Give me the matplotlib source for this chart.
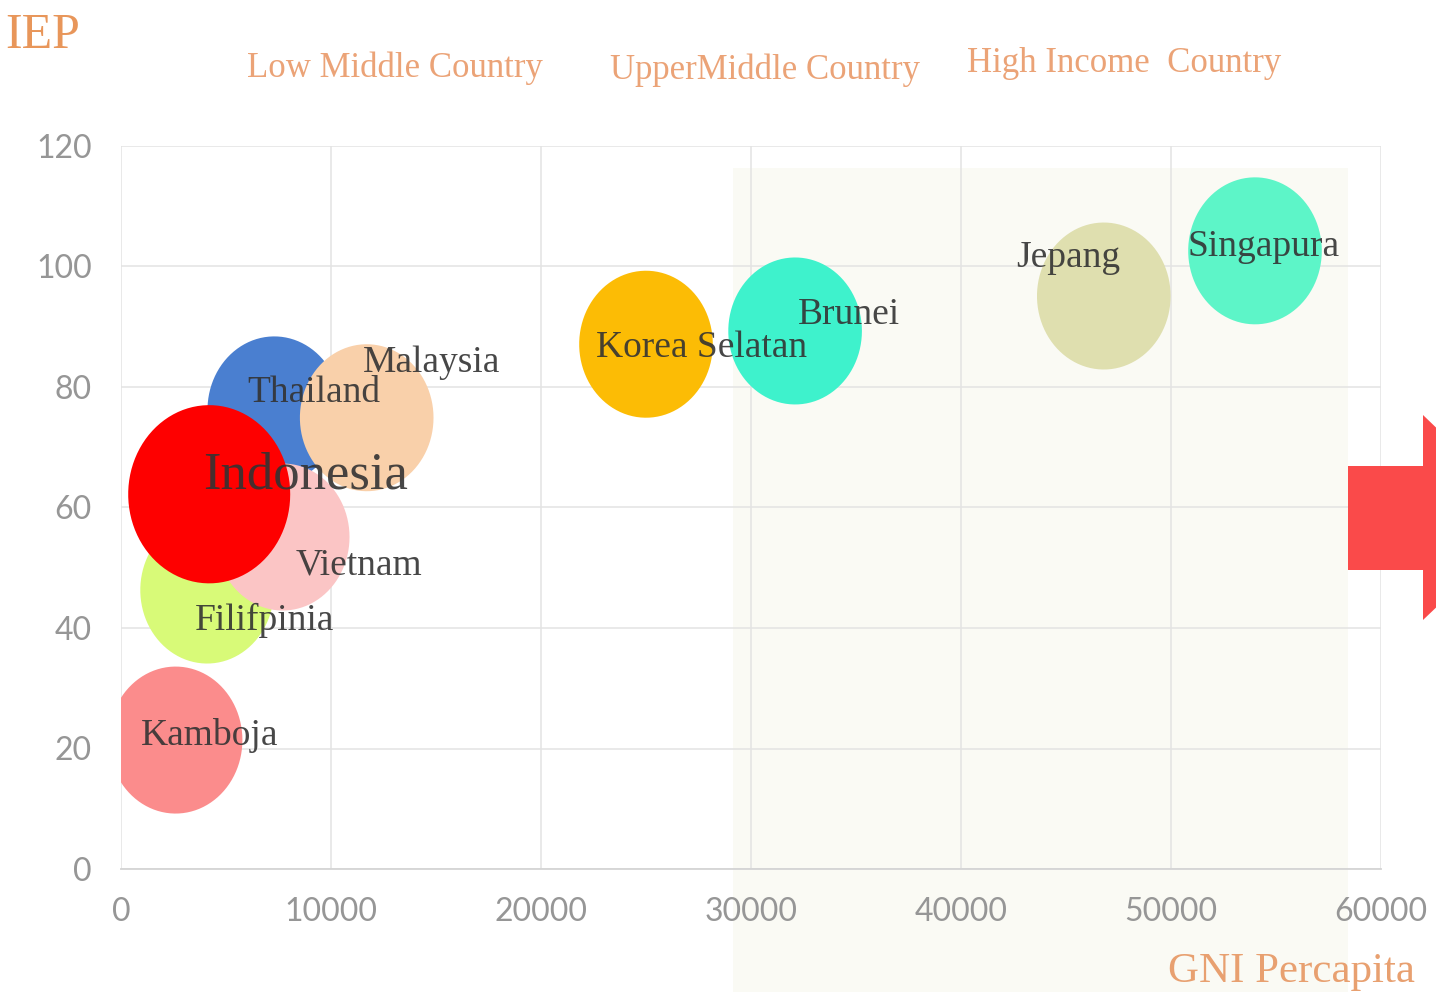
import numpy as np
import matplotlib.pyplot as plt
from matplotlib.path import Path
from matplotlib.patches import Rectangle, Polygon

# GNI per capita (USD) vs IEP score, bubble = relative size
countries = ['Thailand', 'Malaysia', 'Filifpinia', 'Vietnam', 'Indonesia', 'Kamboja',
             'Korea Selatan', 'Brunei', 'Jepang', 'Singapura']
gni = [7300, 11700, 4100, 7700, 4200, 2600, 25000, 32100, 46800, 54000]
iep = [76.2, 74.9, 46.3, 55.1, 62.2, 21.4, 87.1, 89.3, 95.1, 102.6]
bubble = [100, 100, 100, 100, 147, 100, 100, 100, 100, 100]
colors = ['#4a7fd0', '#f9d0aa', '#d8fa78', '#fbc5c5', '#fe0000', '#fb8c8c',
          '#fcbc05', '#3ef2cc', '#dfdfaf', '#5df5c8']

# label offsets in pixels (left edge / vertical centre of text relative to bubble)
label_dx = [-27, -4, -12, 13, -6, -35, -50, 3, -88, -67]
label_dy = [17, 55, -30, -28, 19, 5, -4, 16, 38, 4]

income_groups = ['Low Middle Country', 'UpperMiddle Country', 'High Income  Country']

W, H = 1436, 992
fig = plt.figure(figsize=(W / 100, H / 100), dpi=100)
ax = fig.add_axes([121 / W, 1 - 869 / H, 1260 / W, 723 / H])
ax.set_facecolor('none')

# shaded band behind the high income area
fig.patches.append(Rectangle((733 / W, 0), (1348 - 733) / W, 1 - 168 / H,
                             transform=fig.transFigure, facecolor='#fafaf4',
                             edgecolor='none', zorder=-5))

# ellipse marker, slightly taller than wide
t = np.linspace(0, 2 * np.pi, 100)
ell = Path(np.column_stack([np.cos(t), 1.1 * np.sin(t)]), closed=True)

for i in range(len(countries)):
    ax.scatter(gni[i], iep[i], s=bubble[i] * 112, marker=ell, color=colors[i],
               edgecolors='none', zorder=3)

for i, name in enumerate(countries):
    big = name == 'Indonesia'
    ax.annotate(name, (gni[i], iep[i]), xytext=(label_dx[i], label_dy[i]),
                textcoords='offset pixels', ha='left', va='center',
                fontfamily='Liberation Serif', fontsize=38 if big else 27,
                color='#333333', alpha=0.9, zorder=5)

ax.set_xlim(0, 60000)
ax.set_ylim(0, 120)
ax.set_xticks(range(0, 60001, 10000))
ax.set_yticks(range(0, 121, 20))
ax.grid(True, color='#e3e3e3', lw=1.1, zorder=0)
ax.set_axisbelow(True)
for s in ['top', 'right', 'left']:
    ax.spines[s].set_visible(False)
ax.spines['bottom'].set_color('#d4d4d4')
ax.spines['bottom'].set_linewidth(1.3)
ax.tick_params(length=0, labelsize=23, labelcolor='#969696')
ax.tick_params(axis='x', pad=20)
ax.tick_params(axis='y', pad=21)
for lab in ax.get_xticklabels() + ax.get_yticklabels():
    lab.set_fontfamily('Lato')

fig.text(5 / W, 1 - 36 / H, 'IEP', fontfamily='Liberation Serif', fontsize=36,
         color='#e8965a', va='center', ha='left')
for txt, x, y in zip(income_groups, [247, 610, 967], [68, 70, 63]):
    fig.text(x / W, 1 - y / H, txt, fontfamily='Liberation Serif', fontsize=25,
             color='#eba377', va='center', ha='left')
fig.text(1415 / W, 1 - 972 / H, 'GNI Percapita', fontfamily='Liberation Serif',
         fontsize=31, color='#e8a070', va='center', ha='right')

# red arrow at the right edge
arrow_px = [(1348, 466), (1423, 466), (1423, 415), (1530, 518),
            (1423, 620), (1423, 570), (1348, 570)]
fig.patches.append(Polygon([(x / W, 1 - y / H) for x, y in arrow_px],
                           closed=True, transform=fig.transFigure,
                           facecolor='#fa4a4a', edgecolor='none', zorder=2))

fig.savefig('out.png', dpi=100)
